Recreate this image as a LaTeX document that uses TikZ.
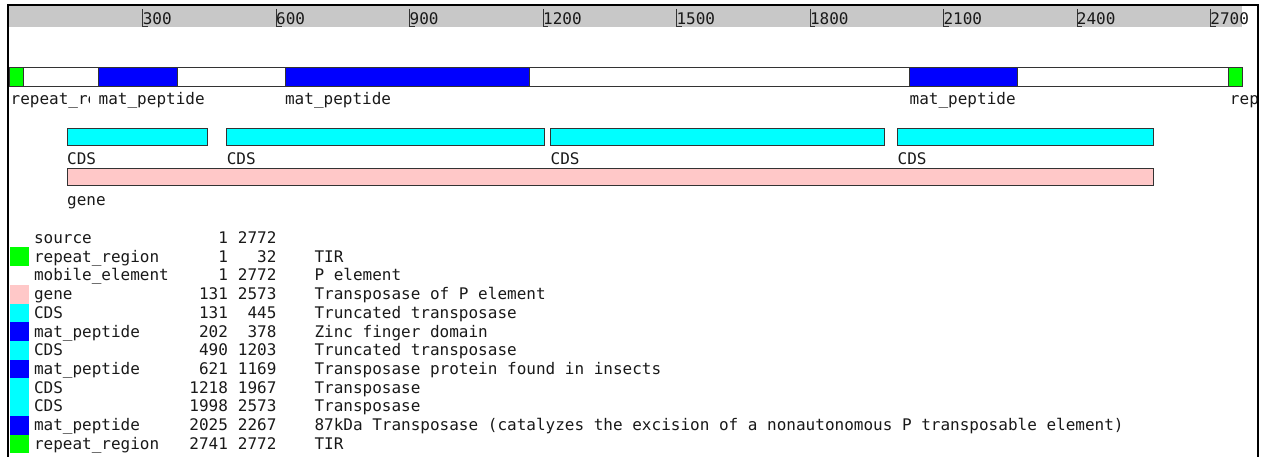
\documentclass[tikz,border=0pt]{standalone}
\usepackage{fontspec}
\newfontfamily\dvmono{DejaVu Sans Mono}
\definecolor{featgreen}{RGB}{0,255,0}
\definecolor{featblue}{RGB}{0,0,255}
\definecolor{featcyan}{RGB}{0,255,255}
\definecolor{featpink}{RGB}{255,200,200}
\definecolor{rulergray}{RGB}{200,200,200}
\begin{document}
\begin{tikzpicture}[x=1pt,y=-1pt,
  txt/.style={inner sep=0pt, outer sep=0pt, font=\dvmono\fontsize{16}{18}\selectfont, text=black!90, anchor=base west},
  feat/.style={draw=black!80, line width=1pt},
  tickmark/.style={draw=black!80, line width=0.8pt},
  frameline/.style={draw=black, line width=2pt}]
\useasboundingbox (0,0) rectangle (1263,457);
\fill[rulergray] (9,6) rectangle (1242,27);
\draw[frameline] (8,457) -- (8,5) -- (1257.5,5) -- (1257.5,457);

\begin{scope}[xshift=9.3pt, x=0.44486pt]
  % ruler
  \foreach \t in {300,600,...,2700} {
    \draw[tickmark] (\t,9) -- (\t,26.5) -- ++(12,0);
    \node[txt] (tk\t) at (\t,25) {\t};
  }
  % track 1
  \draw[feat, fill=white] (0,68) rectangle (2772,86.5);
  \draw[feat, fill=featgreen] (0,68) rectangle (32,86.5);
  \draw[feat, fill=featblue] (201,68) rectangle (378,86.5);
  \draw[feat, fill=featblue] (620,68) rectangle (1169,86.5);
  \draw[feat, fill=featblue] (2024,68) rectangle (2267,86.5);
  \draw[feat, fill=featgreen] (2740,68) rectangle (2772,86.5);
  \begin{scope}
    \clip (0,88) rectangle (181,112);
    \node[txt] (lrr1) at (3,105) {repeat\_region};
  \end{scope}
  \node[txt] (lmp1) at (201,105) {mat\_peptide};
  \node[txt] (lmp2) at (620,105) {mat\_peptide};
  \node[txt] (lmp3) at (2024,105) {mat\_peptide};
  \begin{scope}
    \clip (2700,88) rectangle (2803,112);
    \node[txt] (lrr2) at (2744,105) {repeat\_region};
  \end{scope}
  % CDS track
  \draw[feat, fill=featcyan] (130,128.3) rectangle (445,146);
  \draw[feat, fill=featcyan] (489,128.3) rectangle (1203,146);
  \draw[feat, fill=featcyan] (1217,128.3) rectangle (1967,146);
  \draw[feat, fill=featcyan] (1997,128.3) rectangle (2573,146);
  \node[txt] (lcds1) at (130,165) {CDS};
  \node[txt] (lcds2) at (489,165) {CDS};
  \node[txt] (lcds3) at (1217,165) {CDS};
  \node[txt] (lcds4) at (1997,165) {CDS};
  % gene track
  \draw[feat, fill=featpink] (130,169) rectangle (2573,186);
  \node[txt] (lgene) at (130,205) {gene};
\end{scope}

% legend
\foreach \nm/\s/\e/\d/\c [count=\i from 0] in {
  source/1/2772//white,
  repeat\_region/1/32/TIR/featgreen,
  mobile\_element/1/2772/P element/white,
  gene/131/2573/Transposase of P element/featpink,
  CDS/131/445/Truncated transposase/featcyan,
  mat\_peptide/202/378/Zinc finger domain/featblue,
  CDS/490/1203/Truncated transposase/featcyan,
  mat\_peptide/621/1169/Transposase protein found in insects/featblue,
  CDS/1218/1967/Transposase/featcyan,
  CDS/1998/2573/Transposase/featcyan,
  mat\_peptide/2025/2267/87kDa Transposase (catalyzes the excision of a nonautonomous P transposable element)/featblue,
  repeat\_region/2741/2772/TIR/featgreen}
{
  \pgfmathsetmacro\yb{243.5+18.72*\i}
  \fill[\c] (10,{\yb-14.8}) rectangle (29,{\yb+3.92});
  \node[txt] (ln\i) at (34,\yb) {\nm};
  \node[txt, anchor=base east] (ls\i) at (228,\yb) {\s};
  \node[txt, anchor=base east] (le\i) at (276.5,\yb) {\e};
  \node[txt] (ld\i) at (314.5,\yb) {\d};
}
\end{tikzpicture}
\end{document}
